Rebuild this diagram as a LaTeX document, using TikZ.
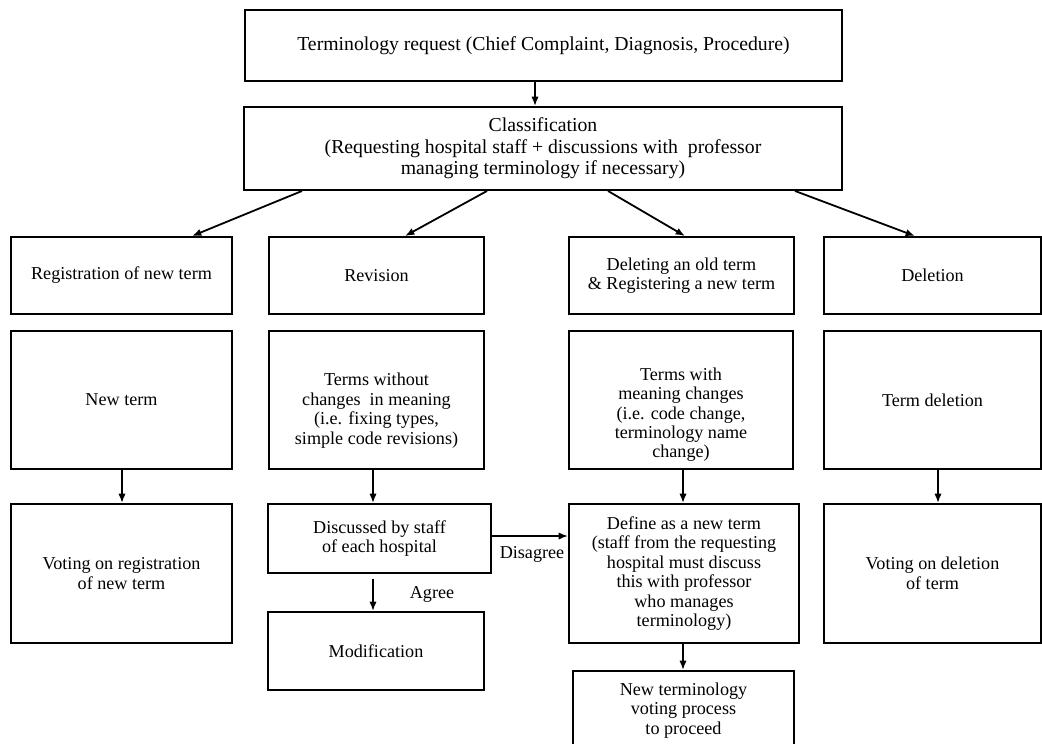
\documentclass[tikz,border=0pt]{standalone}
\usepackage{fontspec}
\setmainfont{Liberation Serif}
\usetikzlibrary{arrows.meta}
\newcommand\fsmall{\fontsize{13.6}{14.6}\selectfont}
\newcommand\fbig{\fontsize{14.8}{16}\selectfont}
\begin{document}
\begin{tikzpicture}[x=0.75pt,y=-0.75pt,
  box/.style={draw, line width=1.45pt, inner sep=0pt, align=center, font=\fsmall},
  bigbox/.style={box, font=\fbig},
  sz/.style 2 args={minimum width=#1*0.75pt, minimum height=#2*0.75pt},
  arr/.style={-{Latex[length=7pt,width=5.5pt]}, line width=1.35pt},
  lbl/.style={font=\fsmall, inner sep=0pt, align=center}]
\clip (0,0) rectangle (1042,743);
\fill[white] (0,0) rectangle (1042,743);

% top
\node[bigbox, sz={597}{71}] (req) at (543.5,45.5) {Terminology request (Chief Complaint, Diagnosis, Procedure)};
\node[bigbox, sz={598}{83}] (cls) at (543,148.5) {Classification\\(Requesting hospital staff + discussions with \ professor\\managing terminology if necessary)};

% row 1
\node[box, sz={221}{77}] (reg) at (121.5,275.5) {Registration of new term};
\node[box, sz={215}{77}] (rev) at (376.5,275.5) {Revision};
\node[box, sz={225}{77}] (del2) at (681.5,275.5) {Deleting an old term\\\& Registering a new term};
\node[box, sz={217}{77}] (dlt) at (932.5,275.5) {Deletion};

% row 2
\node[box, sz={221}{138}] (newt) at (121.5,400) {New term};
\node[box, sz={215}{138},
  label={[lbl, yshift=-8pt, name=woutT]center:{Terms without\\changes \ in meaning\\(i.e. fixing types,\\simple code revisions)}}] (wout) at (376.5,400) {};
\node[box, sz={224}{138},
  label={[lbl, yshift=-11pt, name=withT]center:{Terms with\\meaning changes\\(i.e. code change,\\terminology name\\change)}}] (with) at (681,400) {};
\node[box, sz={217}{138}] (tdel) at (932.5,400) {Term deletion};

% row 3
\node[box, sz={221}{139}] (vreg) at (121.5,573.5) {Voting on registration\\of new term};
\node[box, sz={223}{69}] (disc) at (379.5,538.5) {Discussed by staff\\of each hospital};
\node[box, sz={230}{139}] (def) at (684,573.5) {Define as a new term\\(staff from the requesting\\hospital must discuss\\this with professor\\who manages\\terminology)};
\node[box, sz={217}{139}] (vdel) at (932.5,573.5) {Voting on deletion\\of term};
\node[box, sz={216}{78}] (mod) at (376,651) {Modification};
\node[box, sz={221}{99},
  label={[lbl, yshift=7.5pt, name=nvoteT]center:{New terminology\\voting process\\to proceed}}] (nvote) at (683.5,720.5) {};

% labels
\node[lbl] (disagree) at (532,554) {Disagree};
\node[lbl] (agree) at (432,594) {Agree};

% arrows
\draw[arr] (535,0 |- req.south) -- (535,0 |- cls.north);
\draw[arr] (302,0 |- cls.south) -- (192,0 |- reg.north);
\draw[arr] (487,0 |- cls.south) -- (405,0 |- rev.north);
\draw[arr] (608,0 |- cls.south) -- (685,0 |- del2.north);
\draw[arr] (795,0 |- cls.south) -- (915,0 |- dlt.north);
\draw[arr] (122,0 |- newt.south) -- (122,0 |- vreg.north);
\draw[arr] (373,0 |- wout.south) -- (373,0 |- disc.north);
\draw[arr] (683,0 |- with.south) -- (683,0 |- def.north);
\draw[arr] (938,0 |- tdel.south) -- (938,0 |- vdel.north);
\draw[arr] (disc.east |- 0,536) -- (def.west |- 0,536);
\draw[arr, shorten <=3.5pt] (373,0 |- disc.south) -- (373,0 |- mod.north);
\draw[arr] (683,0 |- def.south) -- (683,0 |- nvote.north);
\end{tikzpicture}
\end{document}
